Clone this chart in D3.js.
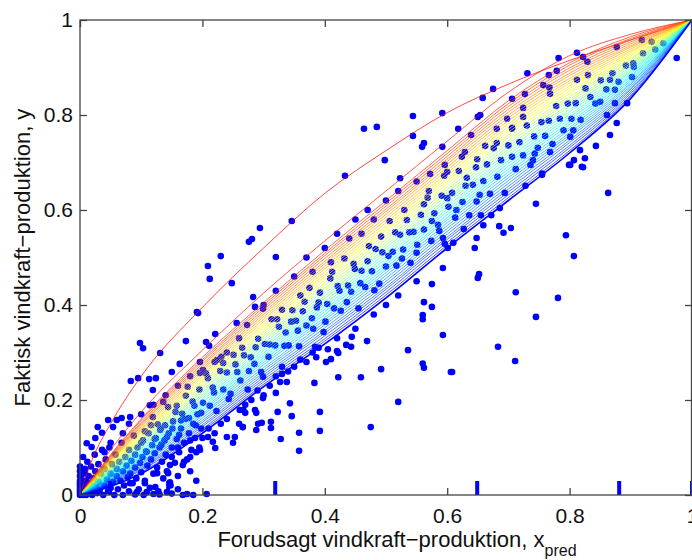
<!DOCTYPE html>
<html>
<head>
<meta charset="utf-8">
<script src="https://cdn.jsdelivr.net/npm/d3@7"></script>
<style>
body { margin: 0; background: #fff; }
text { font-family: "Liberation Sans", Arial, sans-serif; fill: #111; }
</style>
</head>
<body>
<script>
// SVG size
var width = 692,
	height = 560;

var xTicks = [0, 0.2, 0.4, 0.6, 0.8, 1];
var yTicks = [0, 0.2, 0.4, 0.6, 0.8, 1];

// blue marks on the x axis
var rugX = [0, 0.049, 0.144, 0.319, 0.649, 0.881, 1];

// x positions where the curves were read
var curveX = [0, 0.02, 0.05, 0.1, 0.2, 0.3, 0.4, 0.5, 0.6, 0.7, 0.8, 0.9, 1];

// curves, top (red) to bottom (blue)
var curveY = [
	[0, .075, .150, .250, .395, .520, .635, .725, .805, .865, .915, .958, 1],
	[0, .040, .095, .175, .305, .425, .535, .640, .745, .848, .925, .970, 1],
	[0, .035, .085, .160, .290, .405, .515, .620, .725, .830, .910, .965, 1],
	[0, .034, .083, .157, .285, .400, .509, .614, .719, .824, .905, .961, 1],
	[0, .033, .081, .153, .281, .395, .504, .608, .713, .818, .899, .958, 1],
	[0, .033, .079, .150, .276, .390, .498, .602, .707, .812, .894, .954, 1],
	[0, .032, .077, .147, .272, .385, .492, .597, .702, .806, .888, .950, 1],
	[0, .031, .075, .144, .267, .380, .487, .591, .696, .800, .883, .946, 1],
	[0, .030, .074, .140, .263, .375, .481, .585, .690, .794, .877, .943, 1],
	[0, .029, .072, .137, .258, .370, .476, .579, .684, .788, .872, .939, 1],
	[0, .028, .070, .134, .253, .365, .470, .573, .678, .782, .867, .935, 1],
	[0, .028, .068, .130, .249, .359, .464, .567, .672, .776, .861, .932, 1],
	[0, .027, .066, .127, .244, .354, .459, .561, .666, .770, .856, .928, 1],
	[0, .026, .064, .124, .240, .349, .453, .556, .661, .764, .850, .924, 1],
	[0, .025, .062, .121, .235, .344, .447, .550, .655, .758, .845, .920, 1],
	[0, .024, .060, .117, .231, .339, .442, .544, .649, .752, .839, .917, 1],
	[0, .023, .058, .114, .226, .334, .436, .538, .643, .746, .834, .913, 1],
	[0, .023, .056, .111, .221, .329, .431, .532, .637, .740, .829, .909, 1],
	[0, .022, .054, .107, .217, .324, .425, .526, .631, .734, .823, .906, 1],
	[0, .021, .052, .104, .212, .319, .419, .520, .625, .728, .818, .902, 1],
	[0, .020, .051, .101, .208, .314, .414, .515, .620, .722, .812, .898, 1],
	[0, .019, .049, .098, .203, .309, .408, .509, .614, .716, .807, .894, 1],
	[0, .018, .047, .094, .199, .304, .402, .503, .608, .710, .801, .891, 1],
	[0, .018, .045, .091, .194, .299, .397, .497, .602, .704, .796, .887, 1],
	[0, .017, .043, .088, .189, .294, .391, .491, .596, .698, .791, .883, 1],
	[0, .016, .041, .084, .185, .289, .386, .485, .590, .692, .785, .880, 1],
	[0, .015, .039, .081, .180, .284, .380, .479, .584, .686, .780, .876, 1],
	[0, .014, .037, .078, .176, .279, .374, .474, .579, .680, .774, .872, 1],
	[0, .013, .035, .075, .171, .274, .369, .468, .573, .674, .769, .868, 1],
	[0, .013, .033, .071, .167, .268, .363, .462, .567, .668, .763, .865, 1],
	[0, .012, .031, .068, .162, .263, .358, .456, .561, .662, .758, .861, 1],
	[0, .011, .029, .065, .157, .258, .352, .450, .555, .656, .753, .857, 1],
	[0, .010, .028, .061, .153, .253, .346, .444, .549, .650, .747, .854, 1],
	[0, .009, .026, .058, .148, .248, .341, .438, .543, .644, .742, .850, 1],
	[0, .009, .024, .055, .144, .243, .335, .433, .538, .638, .736, .846, 1],
	[0, .008, .022, .052, .139, .238, .329, .427, .532, .632, .731, .842, 1],
	[0, .007, .020, .048, .135, .233, .324, .421, .526, .626, .725, .839, 1],
	[0, .006, .018, .045, .130, .228, .318, .415, .520, .620, .720, .835, 1]
];

// observations [x_pred, y]
var points = [
	// cluster at the origin
	[0,0],[0,.005],[0,.01],[0,.015],[0,.02],[0,.025],[0,.03],[0,.04],[0,.05],[0,.06],[.002,.035],[.003,.012],
	[.004,.045],[.005,0],[.006,.022],[.008,.008],[.008,.055],[.01,0],[.01,.03],[.012,.015],[.012,.07],[.014,.04],
	[.015,.005],[.016,.025],[.018,.06],[.02,0],[.02,.012],[.022,.035],[.024,.085],[.025,.05],[.026,.02],[.028,.004],
	[.03,.065],[.03,.028],[.032,.01],[.034,.045],[.036,.095],[.038,0],[.04,.02],[.04,.055],[.042,.075],[.044,.033],
	[.046,.008],[.048,.1],[.05,.045],[.05,.015],[.052,.065],[.054,.028],[.056,0],[.058,.085],[.06,.04],[.06,.055],
	[.062,.012],[.064,.07],[.066,.03],[.068,.11],[.07,.05],[.07,0],[.072,.02],[.074,.08],[.076,.062],[.078,.038],
	[.08,.095],[.08,.008],[.082,.045],[.084,.072],[.086,.025],[.088,.125],[.09,.058],[.09,.085],[.092,.035],[.094,.1],
	[.096,.012],[.098,.068],[.1,.048],[.1,.11],[.102,.08],[.104,0],[.106,.03],[.108,.092],[.11,.062],[.112,.13],
	[.114,.015],[.116,.075],[.118,.105],[.12,.045],[.122,.088],[.124,.12],[.126,.058],[.128,.008],[.13,.1],[.132,.14],
	[.134,.07],[.136,.035],[.138,.115],[.14,.085],[.142,.05],[.145,.13],[.148,.02],[.15,.1],[.152,.155],[.155,.068],
	[.158,.118],[.16,.04],[.162,.09],[.165,.14],[.168,0],[.17,.11],[.172,.16],[.175,.075],[.178,.13],[.18,.05],
	[.182,.095],[.185,.15],[.188,.12],[.19,.03],[.192,.17],[.195,.1],[.198,.14],
	[.13,.001],[.15,.003],[.175,.002],[.185,0],[.207,.002],[.16,.012],[.12,.002],[.09,.001],
	// along the band
	[.103,.115],[.109,.091],[.116,.147],[.122,.118],[.127,.149],[.133,.106],[.139,.147],[.144,.185],[.151,.14],
	[.156,.175],[.162,.127],[.167,.171],[.173,.209],[.178,.162],[.184,.197],[.189,.147],[.195,.222],[.201,.194],
	[.206,.256],[.212,.188],[.217,.226],[.223,.177],[.229,.261],[.234,.222],[.24,.258],[.246,.213],[.251,.295],
	[.257,.259],[.262,.241],[.268,.294],[.274,.222],[.279,.29],[.285,.276],[.291,.329],[.296,.259],[.302,.318],
	[.308,.291],[.313,.37],[.319,.315],[.325,.354],[.33,.27],[.336,.342],[.341,.315],[.347,.389],[.353,.367],
	[.358,.313],[.364,.387],[.37,.357],[.375,.436],[.381,.35],[.387,.395],[.392,.426],[.398,.343],[.404,.402],
	[.409,.456],[.415,.393],[.421,.44],[.426,.388],[.432,.498],[.438,.441],[.443,.428],[.449,.476],[.455,.393],
	[.46,.472],[.466,.438],[.472,.524],[.477,.471],[.483,.518],[.489,.445],[.494,.511],[.5,.481],[.506,.577],
	[.511,.512],[.517,.483],[.523,.548],[.528,.517],[.534,.579],[.54,.489],[.545,.554],[.551,.527],[.557,.59],
	[.562,.559],[.568,.626],[.574,.535],[.579,.593],[.585,.569],[.591,.63],[.596,.529],[.602,.607],[.608,.636],
	[.613,.584],[.619,.682],[.625,.617],[.63,.651],[.636,.589],[.642,.653],[.647,.69],[.653,.632],[.659,.661],
	[.665,.696],[.67,.634],[.676,.73],[.682,.67],[.688,.705],[.694,.636],[.7,.736],[.706,.712],[.712,.686],
	[.718,.743],[.724,.715],[.73,.778],[.736,.695],[.742,.755],[.748,.731],[.754,.785],[.76,.756],[.766,.788],
	[.772,.739],[.778,.819],[.784,.792],[.79,.768],[.797,.824],[.803,.792],[.81,.825],[.818,.79],[.826,.856],
	[.834,.838],[.842,.824],[.851,.873],[.86,.854],[.87,.888],[.88,.87],[.892,.904],[.905,.901],[.92,.93],[.94,.938],
	[.106,.134],[.119,.164],[.131,.137],[.142,.122],[.158,.188],[.165,.157],[.176,.228],[.187,.188],[.198,.173],
	[.209,.246],[.219,.216],[.231,.291],[.243,.202],[.254,.275],[.265,.31],[.276,.261],[.287,.311],[.299,.249],
	[.31,.317],[.322,.37],[.334,.314],[.345,.365],[.356,.346],[.367,.407],[.379,.372],[.39,.405],[.401,.365],
	[.412,.47],[.424,.43],[.436,.406],[.447,.487],[.458,.446],[.47,.492],[.481,.431],[.492,.544],[.504,.503],
	[.515,.553],[.526,.498],[.538,.553],[.55,.51],[.562,.612],[.575,.577],[.587,.556],[.6,.625],[.615,.6],
	[.632,.668],[.648,.618],
	// above the band
	[.3,.4],[.32,.43],[.35,.46],[.37,.5],[.4,.52],[.42,.55],[.45,.58],[.47,.6],[.5,.62],[.52,.64],[.55,.66],[.38,.47],
	[.44,.54],[.48,.58],[.33,.39],[.36,.42],[.41,.49],[.46,.55],[.53,.6],[.57,.64],[.6,.68],[.346,.577],[.26,.33],
	[.24,.3],[.22,.28],[.18,.25],[.16,.23],[.14,.21],[.12,.19],[.1,.17],[.08,.15],[.07,.13],[.05,.11],[.04,.09],
	// below the band
	[.15,.08],[.16,.1],[.17,.07],[.18,.115],[.19,.09],[.2,.12],[.21,.14],[.22,.13],[.23,.15],[.24,.16],[.25,.11],
	[.26,.15],[.27,.19],[.28,.2],[.29,.22],[.3,.21],[.31,.23],[.32,.25],[.33,.255],[.34,.26],[.35,.27],[.36,.285],
	[.37,.28],[.38,.3],[.39,.31],[.42,.33],[.45,.35],[.48,.38],[.5,.4],[.52,.42],[.55,.45],
	// scattered points
	[.294,.562],[.281,.539],[.276,.533],[.23,.503],[.209,.482],[.212,.455],[.248,.446],[.32,.501],[.193,.383],
	[.283,.417],[.286,.396],[.299,.392],
	[.464,.771],[.485,.775],[.544,.798],[.544,.756],[.562,.741],[.559,.733],[.498,.705],[.433,.672],[.592,.804],
	[.675,.855],[.658,.836],[.706,.834],[.618,.771],[.639,.758],[.654,.8],[.65,.796],[.698,.792],[.592,.733],
	[.681,.771],[.706,.771],[.596,.695],[.629,.722],[.624,.712],[.572,.676],[.595,.672],[.662,.735],[.681,.741],
	[.649,.707],[.523,.667],
	[.877,.943],[.918,.958],[.934,.954],[.812,.931],[.782,.92],[.822,.922],[.829,.912],[.731,.888],[.766,.884],
	[.779,.893],[.975,.92],[.757,.863],[.767,.858],[.727,.844],[.768,.845],[.812,.874],[.83,.884],[.724,.815],
	[.724,.796],[.706,.773],[.866,.758],[.843,.735],[.817,.726],[.825,.709],[.801,.695],[.82,.691],[.807,.705],
	[.894,.825],[.861,.8],[.863,.636],[.755,.677],[.74,.705],[.743,.719],[.768,.722],[.806,.768],[.801,.754],
	[.904,.909],[.953,.951],[.866,.874],[.902,.88],[.85,.828],[.874,.853],[.874,.825],[.877,.783],
	[.745,.613],[.794,.547],[.807,.503],[.712,.427],[.781,.415],[.745,.375],[.593,.337],[.683,.312],[.593,.478],
	[.652,.465],[.65,.457],[.645,.52],[.648,.541],[.685,.566],[.692,.552],[.704,.562],[.659,.568],[.799,.695],
	[.822,.69],[.755,.674],[.728,.651],[.686,.604],[.672,.589],[.655,.589],[.627,.56],[.61,.531],[.601,.52],
	[.593,.541],[.711,.282],[.608,.259],
	[.575,.444],[.562,.406],[.575,.396],[.56,.379],[.56,.37],[.536,.305],[.56,.277],[.562,.268],[.606,.259],
	[.492,.265],[.459,.248],[.422,.248],[.469,.324],[.443,.312],[.435,.316],[.42,.303],[.422,.299],[.405,.307],
	[.41,.286],[.402,.28],[.386,.29],[.384,.312],[.444,.333],[.52,.196],[.475,.143],[.392,.175],[.392,.135],
	[.383,.236],[.358,.131],[.358,.093],[.346,.166],[.343,.193],[.328,.118],[.323,.175],[.32,.215],[.312,.154],
	[.312,.141],[.297,.152],[.291,.15],[.288,.137],[.288,.173],[.286,.179],[.299,.204],[.266,.143],[.27,.173],
	[.267,.179],[.338,.238],[.327,.238],
	[.098,.32],[.103,.309],[.131,.299],[.173,.324],[.083,.24],[.095,.246],[.113,.244],[.124,.246],[.15,.259],
	[.163,.276],[.196,.28],[.191,.385],[.206,.322],[.211,.314],[.221,.339],[.256,.362],[.273,.358],[.224,.284],
	[.234,.278],[.196,.257],[.201,.263],[.029,.143],[.054,.143],[.06,.158],[.046,.158],[.011,.109],[.025,.12],
	[.036,.131],[.005,.08],[.008,.046],[.019,.101],[.082,.164],[.068,.162],[.119,.221],[.136,.196],[.114,.189],
	[.221,.099],[.24,.122],[.253,.122],[.266,.143],[.261,.179],[.217,.112],[.209,.122],[.196,.095],[.18,.08],
	[.168,.063],[.147,.063],[.144,.046],[.126,.046],[.123,.017],[.109,.006],[.093,.006],[.142,.006],[.147,.027],
	[.106,.025],[.082,.025]
];

var margin = {top: 20, right: 0, bottom: 65, left: 80};
var w = width - margin.left - margin.right,
	h = height - margin.top - margin.bottom;

var svg = d3.select("body").append("svg")
	.attr("width", width)
	.attr("height", height);

var g = svg.append("g")
	.attr("transform", "translate(" + margin.left + "," + margin.top + ")");

var xScale = d3.scaleLinear().domain([0, 1]).range([0, w]);
var yScale = d3.scaleLinear().domain([0, 1]).range([h, 0]);

// red (top curve) -> yellow -> cyan -> blue (bottom curve)
var colorScale = d3.scaleLinear()
	.domain([0, 1 / 3, 2 / 3, 1])
	.range(["#ff0000", "#ffff00", "#00ffff", "#0000ff"]);

// points first, the curves are drawn over them
g.selectAll("circle.obs")
	.data(points)
	.enter()
	.append("circle")
	.attr("class", "obs")
	.attr("cx", function(d) { return xScale(d[0]); })
	.attr("cy", function(d) { return yScale(d[1]); })
	.attr("r", 3.3)
	.attr("fill", "#0000ff");

var line = d3.line()
	.x(function(d, i) { return xScale(curveX[i]); })
	.y(function(d) { return yScale(d); })
	.curve(d3.curveMonotoneX);

var last = curveY.length - 1;
g.selectAll("path.curve")
	.data(curveY)
	.enter()
	.append("path")
	.attr("class", "curve")
	.attr("d", line)
	.attr("fill", "none")
	.attr("stroke", function(d, i) { return colorScale(i / last); })
	.attr("stroke-width", function(d, i) { return i === last ? 1.6 : 0.9; })
	.attr("stroke-opacity", function(d, i) { return i === last ? 1 : 0.8; });

// rug marks
g.selectAll("rect.rug")
	.data(rugX)
	.enter()
	.append("rect")
	.attr("class", "rug")
	.attr("x", function(d) { return xScale(d) - 2; })
	.attr("y", h - 14)
	.attr("width", 4)
	.attr("height", 14)
	.attr("fill", "#0000ff");

var fmt = function(d) { return d === 0 || d === 1 ? String(d) : d3.format(".1f")(d); };

var xAxis = d3.axisBottom(xScale).tickValues(xTicks).tickFormat(fmt).tickSizeInner(-7).tickSizeOuter(0).tickPadding(13);
var yAxis = d3.axisLeft(yScale).tickValues(yTicks).tickFormat(fmt).tickSizeInner(-7).tickSizeOuter(0).tickPadding(7);
var xTop = d3.axisTop(xScale).tickValues(xTicks).tickFormat("").tickSizeInner(-7).tickSizeOuter(0);
var yRight = d3.axisRight(yScale).tickValues(yTicks).tickFormat("").tickSizeInner(-7).tickSizeOuter(0);

g.append("g").attr("class", "axis").attr("transform", "translate(0," + h + ")").call(xAxis);
g.append("g").attr("class", "axis").call(yAxis);
g.append("g").attr("class", "axis").call(xTop);
g.append("g").attr("class", "axis").attr("transform", "translate(" + w + ",0)").call(yRight);

g.selectAll(".axis .domain").remove();
g.selectAll(".axis line").attr("stroke", "#444").attr("stroke-width", 1.3);
g.selectAll(".axis text")
	.attr("font-family", "Liberation Sans, Arial, sans-serif")
	.attr("font-size", 21)
	.attr("fill", "#111");

// frame
g.append("rect")
	.attr("x", 0)
	.attr("y", 0)
	.attr("width", w - 0.5)
	.attr("height", h)
	.attr("fill", "none")
	.attr("stroke", "#444")
	.attr("stroke-width", 1.3);

// axis labels
var xLabel = svg.append("text")
	.attr("x", 397)
	.attr("y", 547)
	.attr("text-anchor", "middle")
	.attr("font-size", 22);
xLabel.append("tspan").text("Forudsagt vindkraft\u2212produktion, x");
xLabel.append("tspan").attr("dy", 9).attr("font-size", 16).text("pred");

svg.append("text")
	.attr("transform", "translate(30," + (margin.top + h / 2) + ") rotate(-90)")
	.attr("text-anchor", "middle")
	.attr("font-size", 22)
	.text("Faktisk vindkraft\u2212produktion, y");
</script>
</body>
</html>
